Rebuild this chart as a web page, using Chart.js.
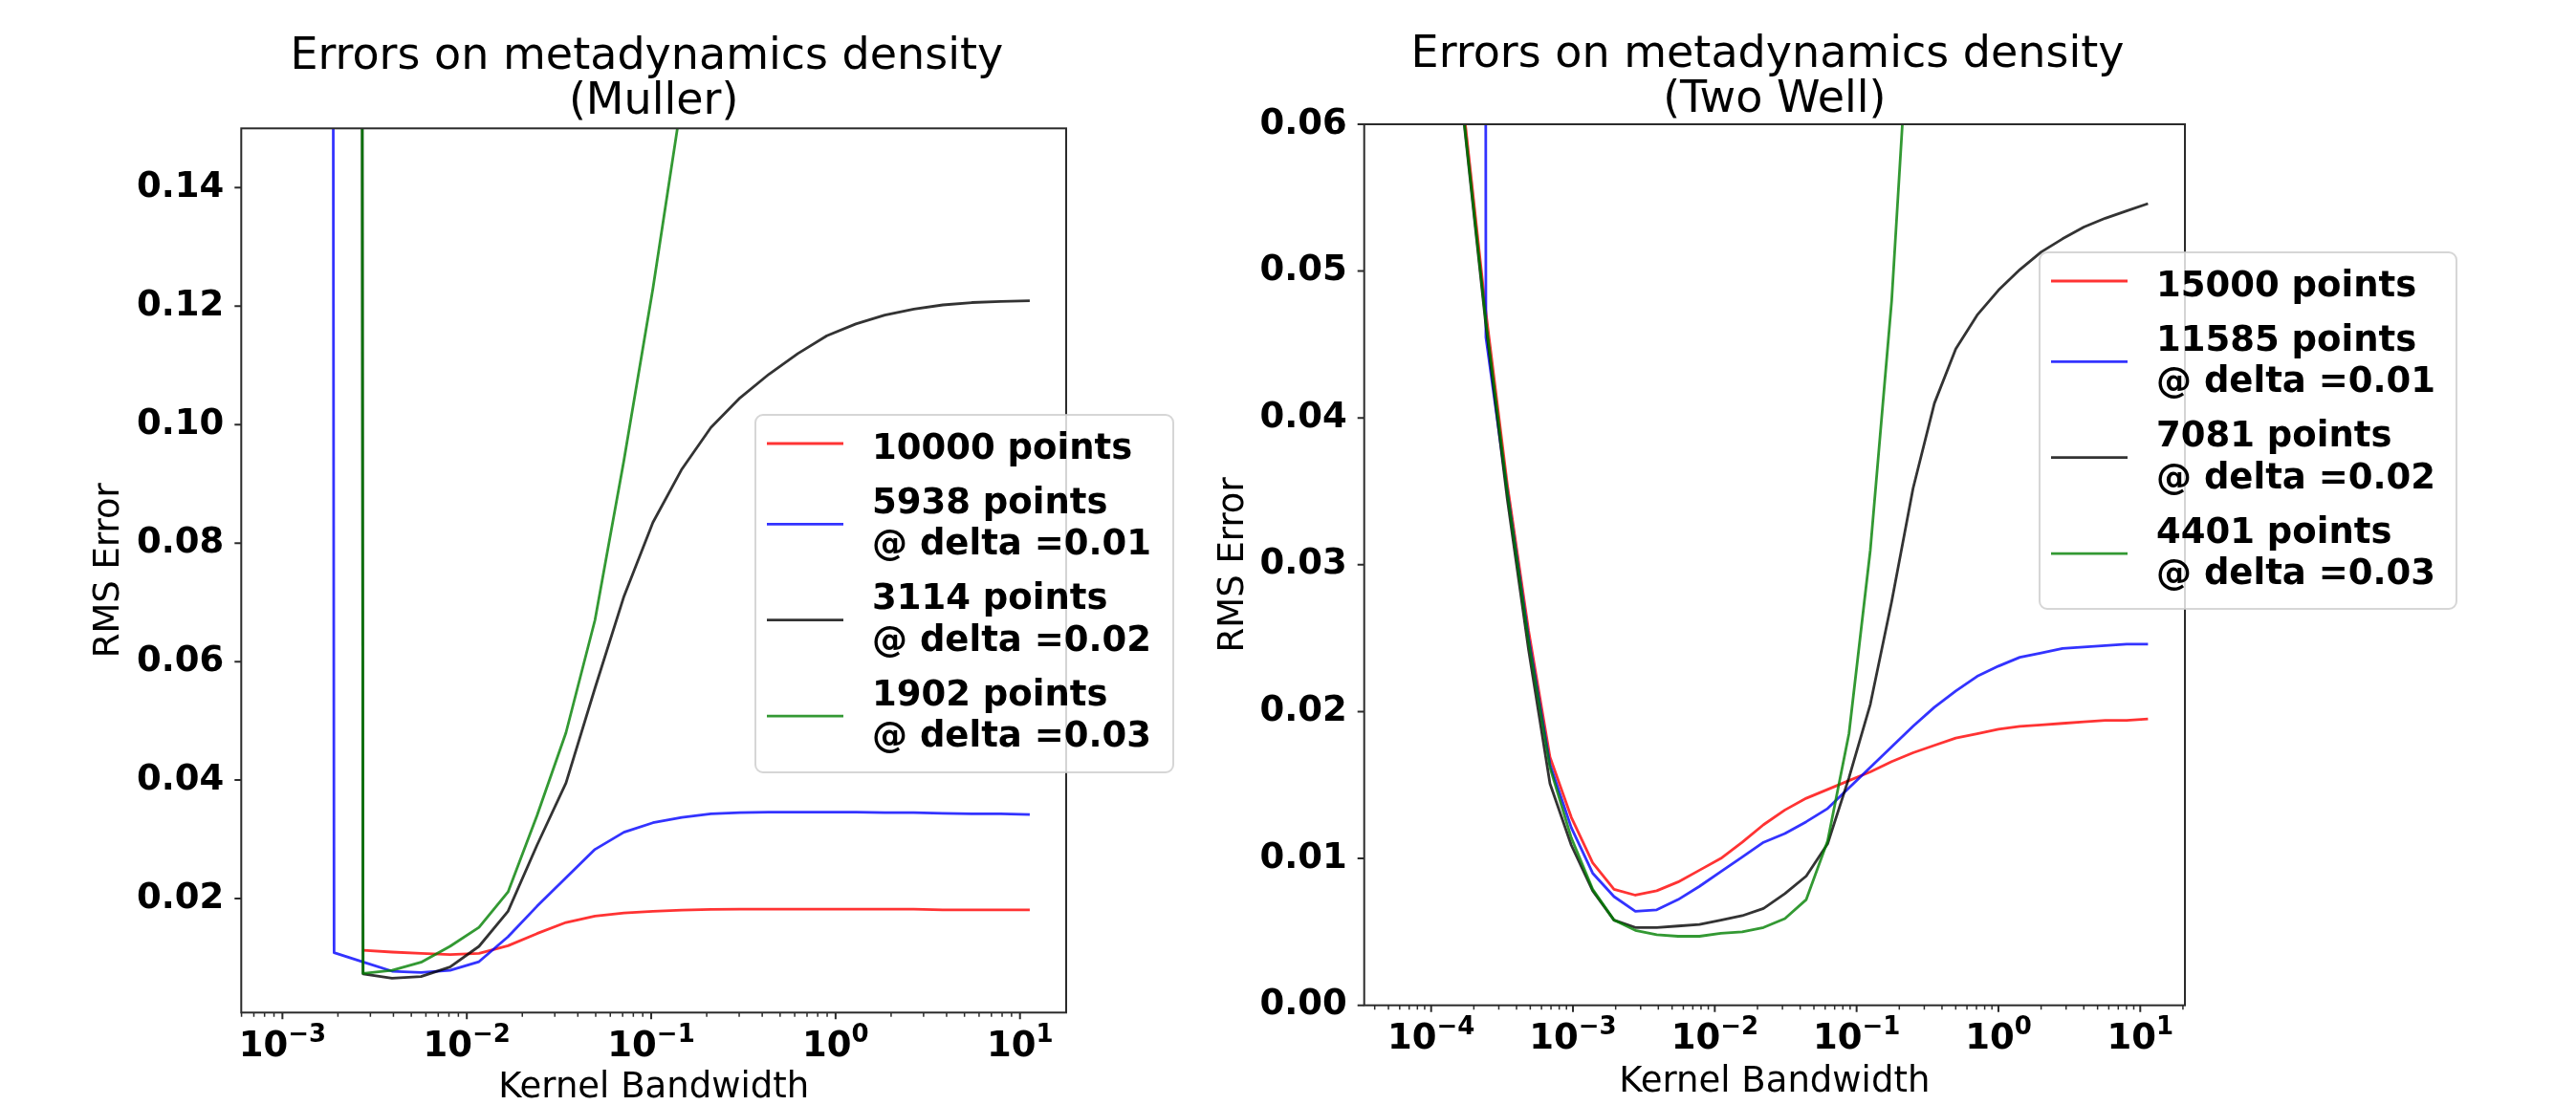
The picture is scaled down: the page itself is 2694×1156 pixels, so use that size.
<!DOCTYPE html>
<html>
<head>
<meta charset="utf-8">
<script src="https://cdn.jsdelivr.net/npm/chart.js@4.4.1/dist/chart.umd.min.js"></script>
<style>
  html, body { margin: 0; padding: 0; background: #fff; overflow: hidden; width: 2694px; height: 1156px; }
  canvas { position: absolute; top: 0; }
  #muller { left: 0; }
  #twowell { left: 1250px; }
</style>
</head>
<body>
<canvas id="muller" width="1250" height="1156"></canvas>
<canvas id="twowell" width="1444" height="1156"></canvas>
<script>
// ---------------- Muller panel data ----------------
const mullerBandwidth = [0.001327, 0.001906, 0.002738, 0.003932, 0.005646, 0.008110, 0.011647, 0.016726, 0.024021, 0.034498, 0.049545, 0.071153, 0.10219, 0.14675, 0.21076, 0.30269, 0.43471, 0.62431, 0.89660, 1.2877, 1.8493, 2.6558, 3.8141, 5.4777, 7.8668, 11.298];
const muller10000 = [null, null, 0.01129, 0.01097, 0.01075, 0.01054, 0.01075, 0.01204, 0.01409, 0.01597, 0.01704, 0.01758, 0.01785, 0.01806, 0.01817, 0.0182, 0.0182, 0.0182, 0.0182, 0.0182, 0.0182, 0.0182, 0.0181, 0.0181, 0.0181, 0.0181];
const muller5938 = [5, 0.01086, 0.0093, 0.00774, 0.00753, 0.0079, 0.00935, 0.01355, 0.0187, 0.0235, 0.0283, 0.0312, 0.0328, 0.0337, 0.0343, 0.0345, 0.0346, 0.0346, 0.0346, 0.0346, 0.0345, 0.0345, 0.0344, 0.0343, 0.0343, 0.0342];
const muller3114 = [null, 5, 0.0073, 0.00656, 0.00683, 0.00844, 0.01194, 0.01785, 0.029, 0.0395, 0.0555, 0.071, 0.0835, 0.0925, 0.0995, 0.1045, 0.1085, 0.112, 0.115, 0.117, 0.1185, 0.1195, 0.1202, 0.1206, 0.1208, 0.1209];
const muller1902 = [null, 5, 0.00737, 0.0079, 0.00925, 0.01194, 0.01516, 0.0211, 0.034, 0.048, 0.067, 0.094, 0.123, 0.155, null, null, null, null, null, null, null, null, null, null, null, null];
const mullerLabels = ['10000 points', '5938 points\n@ delta =0.01', '3114 points\n@ delta =0.02', '1902 points\n@ delta =0.03'];
const mullerTitle = ['Errors on metadynamics density ', '(Muller)'];
const mullerXTicks = [0.001, 0.01, 0.1, 1, 10];
const mullerXTickExponents = ['\u22123', '\u22122', '\u22121', '0', '1'];
const mullerYTicks = [0.02, 0.04, 0.06, 0.08, 0.10, 0.12, 0.14];
const mullerYTickLabels = ['0.02', '0.04', '0.06', '0.08', '0.10', '0.12', '0.14'];

// ---------------- Two Well panel data ----------------
const twoWellBandwidth = [1.2155e-4, 1.7195e-4, 2.4322e-4, 3.4405e-4, 4.8674e-4, 6.8847e-4, 9.7364e-4, 1.3772e-3, 1.948e-3, 2.7554e-3, 3.8975e-3, 5.5131e-3, 7.7983e-3, 0.01103, 0.015604, 0.022073, 0.031221, 0.044157, 0.062459, 0.088344, 0.12496, 0.17676, 0.25003, 0.35366, 0.50026, 0.70762, 1.0009, 1.4158, 2.0025, 2.8325, 4.0065, 5.6676, 8.0168, 11.339];
const twoWell15000 = [0.076, 0.0605, 0.0472, 0.0355, 0.0255, 0.0169, 0.0128, 0.0097, 0.0079, 0.0075, 0.0078, 0.0084, 0.0092, 0.0100, 0.0111, 0.0123, 0.0133, 0.0141, 0.0147, 0.0153, 0.0159, 0.0166, 0.0172, 0.0177, 0.0182, 0.0185, 0.0188, 0.0190, 0.0191, 0.0192, 0.0193, 0.0194, 0.0194, 0.0195];
const twoWell11585 = [null, 5, 0.0455, 0.035, 0.025, 0.0164, 0.0121, 0.0090, 0.0074, 0.0064, 0.0065, 0.0072, 0.0081, 0.0091, 0.0101, 0.0111, 0.0117, 0.0125, 0.0134, 0.0148, 0.0162, 0.0176, 0.0190, 0.0203, 0.0214, 0.0224, 0.0231, 0.0237, 0.0240, 0.0243, 0.0244, 0.0245, 0.0246, 0.0246];
const twoWell7081 = [0.074, 0.0598, 0.0463, 0.0345, 0.0242, 0.0151, 0.0109, 0.0078, 0.0058, 0.0053, 0.0053, 0.0054, 0.0055, 0.0058, 0.0061, 0.0066, 0.0076, 0.0088, 0.0110, 0.0155, 0.0205, 0.0275, 0.0352, 0.0410, 0.0447, 0.0470, 0.0487, 0.0501, 0.0513, 0.0522, 0.0530, 0.0536, 0.0541, 0.0546];
const twoWell4401 = [0.075, 0.0600, 0.0466, 0.035, 0.0248, 0.0162, 0.0114, 0.0079, 0.0058, 0.0051, 0.0048, 0.0047, 0.0047, 0.0049, 0.0050, 0.0053, 0.0059, 0.0072, 0.0112, 0.0185, 0.031, 0.048, 0.072, null, null, null, null, null, null, null, null, null, null, null];
const twoWellLabels = ['15000 points', '11585 points\n@ delta =0.01', '7081 points\n@ delta =0.02', '4401 points\n@ delta =0.03'];
const twoWellTitle = ['Errors on metadynamics density ', '(Two Well)'];
const twoWellXTicks = [0.0001, 0.001, 0.01, 0.1, 1, 10];
const twoWellXTickExponents = ['\u22124', '\u22123', '\u22122', '\u22121', '0', '1'];
const twoWellYTicks = [0, 0.01, 0.02, 0.03, 0.04, 0.05, 0.06];
const twoWellYTickLabels = ['0.00', '0.01', '0.02', '0.03', '0.04', '0.05', '0.06'];

const xTitle = 'Kernel Bandwidth';
const yTitle = 'RMS Error';

// ---------------- styling ----------------
const FONT = '"DejaVu Sans", sans-serif';
const COLORS = ['rgba(255,0,0,0.8)', 'rgba(0,0,255,0.8)', 'rgba(0,0,0,0.8)', 'rgba(0,128,0,0.8)'];
const SPINE = '#2b2b2b';
Chart.defaults.font.family = FONT;
Chart.defaults.color = '#000';

const frameAndTicks = {
  id: 'frameAndTicks',
  afterDatasetsDraw(chart, args, opts) {
    const {ctx, chartArea: a, scales: {x, y}} = chart;
    ctx.save();
    ctx.strokeStyle = SPINE;
    const e0 = Math.floor(Math.log10(x.min)), e1 = Math.ceil(Math.log10(x.max));
    // minor ticks
    ctx.lineWidth = 1.5;
    ctx.beginPath();
    for (let e = e0; e <= e1; e++) {
      for (let m = 2; m <= 9; m++) {
        const v = m * Math.pow(10, e);
        if (v < x.min || v > x.max) continue;
        const px = x.getPixelForValue(v);
        ctx.moveTo(px, a.bottom);
        ctx.lineTo(px, a.bottom + 4.5);
      }
    }
    ctx.stroke();
    // major ticks
    ctx.lineWidth = 2;
    ctx.beginPath();
    x.ticks.forEach(t => {
      const px = x.getPixelForValue(t.value);
      ctx.moveTo(px, a.bottom);
      ctx.lineTo(px, a.bottom + 7);
    });
    y.ticks.forEach(t => {
      const py = y.getPixelForValue(t.value);
      ctx.moveTo(a.left, py);
      ctx.lineTo(a.left - 7, py);
    });
    ctx.stroke();
    ctx.strokeRect(a.left, a.top, a.right - a.left, a.bottom - a.top);

    // x tick labels: 10 with a raised exponent, centred on the scale's tick pixels
    ctx.fillStyle = '#000';
    ctx.textBaseline = 'alphabetic';
    ctx.textAlign = 'left';
    const mainFont = 'bold 37px ' + FONT, expFont = 'bold 26px ' + FONT;
    x.ticks.forEach((t, i) => {
      const px = x.getPixelForValue(t.value);
      const exp = opts.exponents[i];
      ctx.font = mainFont;
      const wMain = ctx.measureText('10').width;
      ctx.font = expFont;
      const wExp = ctx.measureText(exp).width;
      const left = px - (wMain + wExp) / 2;
      const base = a.bottom + opts.labelDrop;
      ctx.font = mainFont;
      ctx.fillText('10', left, base);
      ctx.font = expFont;
      ctx.fillText(exp, left + wMain, base - 15);
    });
    ctx.restore();
  }
};

const panelTitle = {
  id: 'panelTitle',
  afterDraw(chart, args, opts) {
    const {ctx, chartArea: a} = chart;
    ctx.save();
    ctx.font = '46px ' + FONT;
    ctx.fillStyle = '#000';
    ctx.textAlign = 'center';
    ctx.textBaseline = 'alphabetic';
    const cx = (a.left + a.right) / 2;
    opts.lines.forEach((t, i) => ctx.fillText(t, cx, a.top - opts.offset + i * 46.5));
    ctx.restore();
  }
};

const boxLegend = {
  id: 'boxLegend',
  afterDraw(chart, args, opts) {
    const {ctx} = chart;
    const {x, y, w, h} = opts;
    ctx.save();
    ctx.beginPath();
    ctx.roundRect(x, y, w, h, 8);
    ctx.fillStyle = 'rgba(255,255,255,0.8)';
    ctx.fill();
    ctx.lineWidth = 2;
    ctx.strokeStyle = 'rgba(204,204,204,0.8)';
    ctx.stroke();
    ctx.font = 'bold 37px ' + FONT;
    ctx.textBaseline = 'alphabetic';
    ctx.textAlign = 'left';
    let base = y + 46;
    chart.data.datasets.forEach(ds => {
      const lines = ds.label.split('\n');
      const sy = base - 16 + (lines.length - 1) * 27.5;
      ctx.strokeStyle = ds.borderColor;
      ctx.lineWidth = 2.8;
      ctx.beginPath();
      ctx.moveTo(x + 12, sy);
      ctx.lineTo(x + 92, sy);
      ctx.stroke();
      ctx.fillStyle = '#000';
      lines.forEach((t, i) => ctx.fillText(t, x + 122, base + i * 43.6));
      base += lines.length * 43.6 + 13.2;
    });
    ctx.restore();
  }
};

function makePanel(id, p) {
  return new Chart(document.getElementById(id), {
    type: 'line',
    data: {
      datasets: p.series.map((vals, k) => ({
        label: p.labels[k],
        data: p.xs.map((xv, i) => ({x: xv, y: vals[i]})),
        borderColor: COLORS[k],
        backgroundColor: COLORS[k],
        borderWidth: 2.8,
        borderJoinStyle: 'round',
        pointRadius: 0,
        pointHoverRadius: 0,
        fill: false,
        tension: 0,
        order: p.series.length - 1 - k
      }))
    },
    options: {
      responsive: false,
      animation: false,
      devicePixelRatio: 1,
      events: [],
      layout: {padding: {top: p.area.top, left: 0, right: p.canvasW - p.area.right, bottom: 0}},
      plugins: {
        legend: {display: false},
        tooltip: {enabled: false},
        panelTitle: {lines: p.title, offset: p.titleOffset},
        boxLegend: p.legendBox,
        frameAndTicks: {exponents: p.xTickExponents, labelDrop: p.xLabelDrop}
      },
      scales: {
        x: {
          type: 'logarithmic',
          min: p.xMin, max: p.xMax,
          afterBuildTicks: s => { s.ticks = p.xTicks.map(v => ({value: v, major: true})); },
          afterFit: s => { s.height = p.canvasH - p.area.bottom; },
          grid: {display: false, drawTicks: false},
          border: {display: false},
          ticks: {display: false, autoSkip: false, maxRotation: 0, minRotation: 0},
          title: {display: true, text: xTitle, color: '#000',
                  font: {family: FONT, size: 37, lineHeight: 1},
                  padding: {top: 0, bottom: p.xTitlePad}}
        },
        y: {
          type: 'linear',
          min: p.yMin, max: p.yMax,
          afterBuildTicks: s => { s.ticks = p.yTicks.map(v => ({value: v})); },
          afterFit: s => { s.width = p.area.left; },
          grid: {display: false, drawTicks: false},
          border: {display: false},
          ticks: {
            padding: 18, color: '#000',
            font: {family: FONT, size: 37, weight: 'bold'},
            callback: (v, i) => p.yTickLabels[i]
          },
          title: {display: true, text: yTitle, color: '#000',
                  font: {family: FONT, size: 37, lineHeight: 1},
                  padding: {top: p.yTitlePad, bottom: 0}}
        }
      }
    },
    plugins: [frameAndTicks, panelTitle, boxLegend]
  });
}

makePanel('muller', {
  canvasW: 1250, canvasH: 1156,
  area: {left: 252.3, right: 1115, top: 134.3, bottom: 1059.3},
  xs: mullerBandwidth,
  series: [muller10000, muller5938, muller3114, muller1902],
  labels: mullerLabels,
  title: mullerTitle, titleOffset: 62,
  xMin: 5.98e-4, xMax: 17.8,
  yMin: 0.00076, yMax: 0.15,
  xTicks: mullerXTicks, xTickExponents: mullerXTickExponents,
  yTicks: mullerYTicks, yTickLabels: mullerYTickLabels,
  xLabelDrop: 45.7, xTitlePad: -1, yTitlePad: 96.2,
  legendBox: {x: 790, y: 434, w: 437, h: 374}
});

makePanel('twowell', {
  canvasW: 1444, canvasH: 1156,
  area: {left: 176.7, right: 1035, top: 130, bottom: 1051.7},
  xs: twoWellBandwidth,
  series: [twoWell15000, twoWell11585, twoWell7081, twoWell4401],
  labels: twoWellLabels,
  title: twoWellTitle, titleOffset: 60,
  xMin: 3.373e-5, xMax: 20.65,
  yMin: 0, yMax: 0.06,
  xTicks: twoWellXTicks, xTickExponents: twoWellXTickExponents,
  yTicks: twoWellYTicks, yTickLabels: twoWellYTickLabels,
  xLabelDrop: 45, xTitlePad: 5, yTitlePad: 22.1,
  legendBox: {x: 883, y: 264, w: 436, h: 373}
});
</script>
</body>
</html>
